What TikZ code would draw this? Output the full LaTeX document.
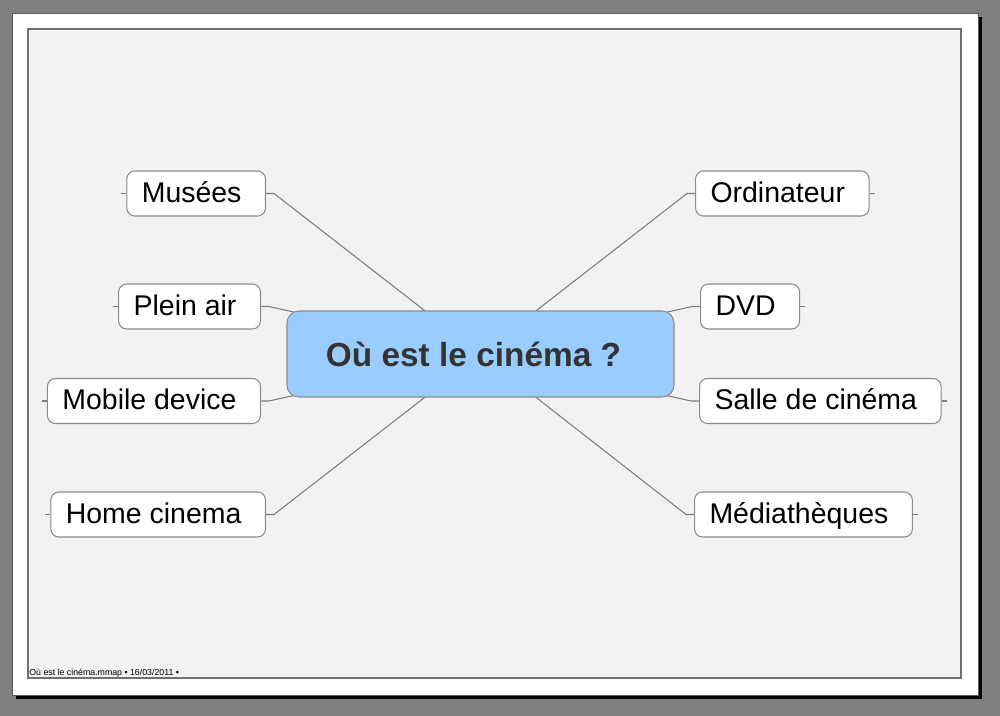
\documentclass[tikz,border=0pt]{standalone}
\usepackage{fontspec}
\setmainfont{Liberation Sans}
\usetikzlibrary{backgrounds}
\definecolor{deskgray}{RGB}{128,128,128}
\definecolor{sheet}{RGB}{242,242,242}
\definecolor{framegray}{RGB}{112,112,112}
\definecolor{topicblue}{RGB}{153,204,255}
\definecolor{linegray}{RGB}{125,125,125}
\definecolor{boxgray}{RGB}{140,140,140}
\definecolor{titletext}{RGB}{51,51,51}
\tikzstyle{topic} = [rectangle, rounded corners=0.24cm, minimum width=7.74cm, minimum height=1.72cm, text centered, draw=boxgray, line width=0.6pt, fill=topicblue, text=titletext, font=\fontsize{19pt}{23pt}\selectfont\bfseries, execute at end node={\hspace{0.28cm}}]
\tikzstyle{branch} = [rectangle, rounded corners=0.16cm, minimum height=0.9cm, text height=0.45cm, text depth=0.11cm, inner xsep=0.3cm, draw=boxgray, line width=0.6pt, fill=white, font=\fontsize{16.2pt}{19pt}\selectfont, execute at end node={\hspace{0.18cm}}]
\tikzstyle{link} = [draw=linegray, line width=0.6pt]

\begin{document}
\begin{tikzpicture}

\useasboundingbox (0,0) rectangle (20,-14.32);

\begin{pgfonlayer}{background}
	\fill [deskgray] (0,0) rectangle (20,-14.32);
	\fill [black] (0.32,-0.34) rectangle (19.64,-13.98);
	\draw [fill=white, draw=black!65, line width=0.5pt] (0.24,-0.26) rectangle (19.56,-13.90);
	\draw [fill=sheet, draw=framegray, line width=0.8pt] (0.56,-0.58) rectangle (19.22,-13.56);
\end{pgfonlayer}

	\node (cen) [topic] at (9.61,-7.08) {Où est le cinéma ?};

	\node (mus) [branch, anchor=east, xshift=-4.29cm, yshift=3.21cm] at (cen) {Musées};
	\node (ple) [branch, anchor=east, xshift=-4.39cm, yshift=0.95cm] at (cen) {Plein air};
	\node (mob) [branch, anchor=east, xshift=-4.39cm, yshift=-0.94cm] at (cen) {Mobile device};
	\node (hom) [branch, anchor=east, xshift=-4.29cm, yshift=-3.21cm] at (cen) {Home cinema};
	\node (ord) [branch, anchor=west, xshift=4.29cm, yshift=3.21cm] at (cen) {Ordinateur};
	\node (dvd) [branch, anchor=west, xshift=4.39cm, yshift=0.95cm] at (cen) {DVD};
	\node (sal) [branch, anchor=west, xshift=4.37cm, yshift=-0.94cm] at (cen) {Salle de cinéma};
	\node (med) [branch, anchor=west, xshift=4.27cm, yshift=-3.21cm] at (cen) {Médiathèques};

	\node (foot) [anchor=base west, inner sep=0pt, font=\fontsize{5pt}{6pt}\selectfont] at (0.58,-13.5) {Où est le cinéma.mmap • 16/03/2011 •};

\begin{pgfonlayer}{background}
	\draw [link] (mus.east) -- ++(0.16,0) -- (cen.center);
	\draw [link] (ple.east) -- ++(0.16,0) -- (cen.center);
	\draw [link] (mob.east) -- ++(0.16,0) -- (cen.center);
	\draw [link] (hom.east) -- ++(0.16,0) -- (cen.center);
	\draw [link] (ord.west) -- ++(-0.16,0) -- (cen.center);
	\draw [link] (dvd.west) -- ++(-0.16,0) -- (cen.center);
	\draw [link] (sal.west) -- ++(-0.16,0) -- (cen.center);
	\draw [link] (med.west) -- ++(-0.16,0) -- (cen.center);
\end{pgfonlayer}

\draw [link] (mus.west) -- ++(-0.1,0);
\draw [link] (ple.west) -- ++(-0.1,0);
\draw [link] (mob.west) -- ++(-0.1,0);
\draw [link] (hom.west) -- ++(-0.1,0);
\draw [link] (ord.east) -- ++(0.1,0);
\draw [link] (dvd.east) -- ++(0.1,0);
\draw [link] (sal.east) -- ++(0.1,0);
\draw [link] (med.east) -- ++(0.1,0);

\end{tikzpicture}
\end{document}
